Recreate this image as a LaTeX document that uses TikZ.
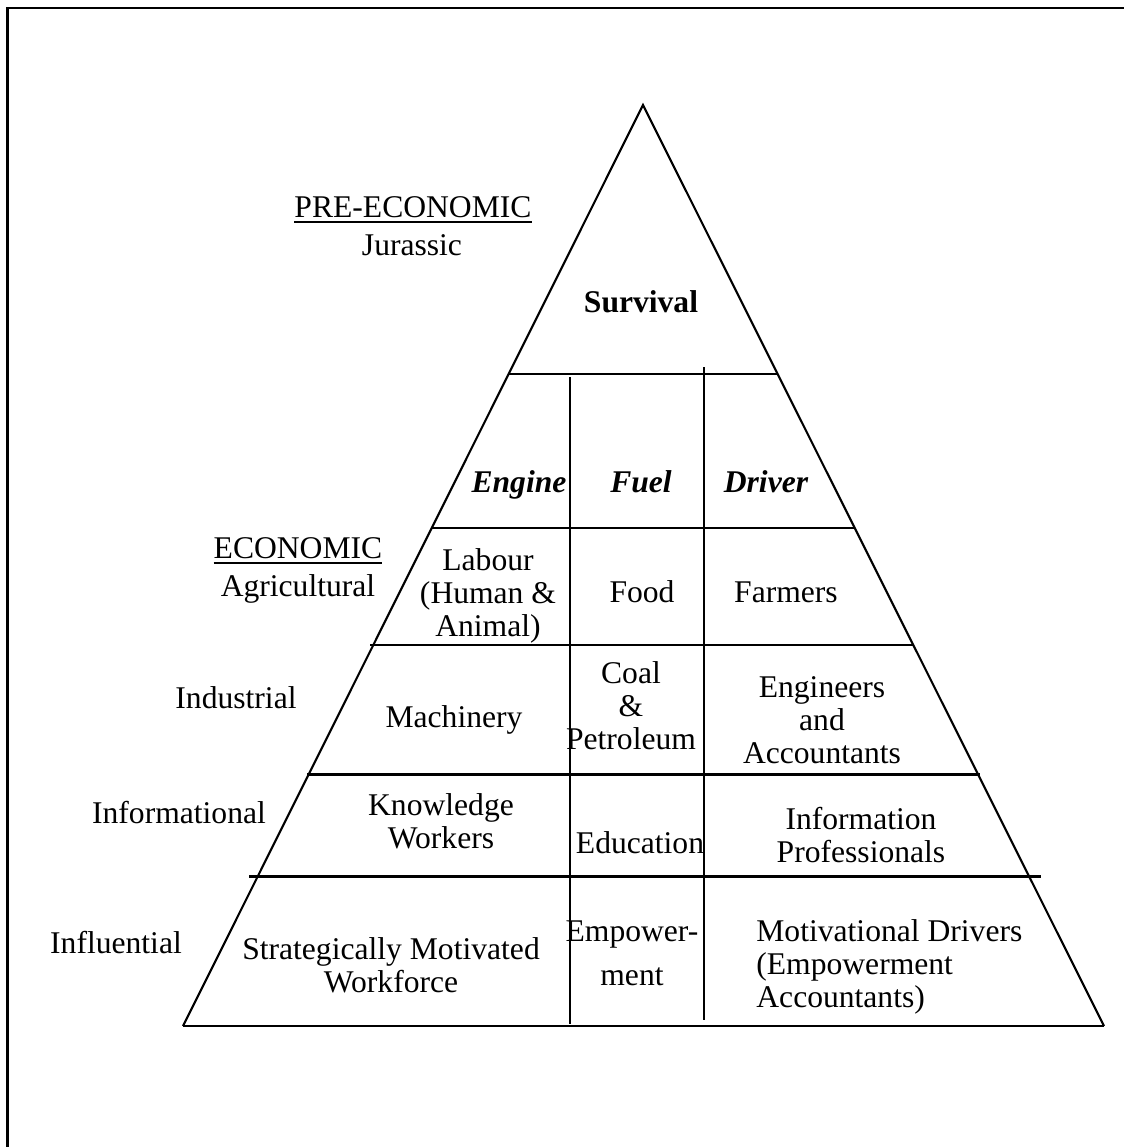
\documentclass[tikz,border=0pt]{standalone}
\usepackage{fontspec}
\setmainfont{Liberation Serif}
\newcommand\myul[1]{\setbox0\hbox{#1}\rlap{\rule[-3pt]{\wd0}{1pt}}\box0}
\newcommand\cellc[1]{\begin{tabular}[t]{@{}c@{}}#1\end{tabular}}
\newcommand\celll[1]{\begin{tabular}[t]{@{}l@{}}#1\end{tabular}}
\begin{document}
\begin{tikzpicture}[x=0.5pt,y=-0.5pt,
  txt/.style={inner sep=0pt, anchor=base, font=\fontsize{15.8pt}{16.5pt}\selectfont},
  txtl/.style={txt, anchor=base west},
  edge/.style={line width=1.05pt},
  baseln/.style={line width=1.4pt},
  frame/.style={line width=1.4pt}]
\useasboundingbox (0,0) rectangle (1124,1147);
\fill[white] (0,0) rectangle (1124,1147);
% frame (only top and left edges fall inside the picture)
\coordinate (F1) at (1124,8);
\coordinate (F2) at (7.5,8);
\coordinate (F3) at (7.5,1147);
\draw[frame, line join=miter] (F1) -- (F2) -- (F3);
% pyramid
\coordinate (A) at (643,105);
\coordinate (BL) at (183,1026);
\coordinate (BR) at (1104,1026);
\draw[edge, line join=miter] (BL) -- (A) -- (BR);
\draw[baseln] (BL) -- (BR);
% horizontal dividers
\coordinate (h1a) at (508.6,374);   \coordinate (h1b) at (777.6,374);
\coordinate (h2a) at (431.7,528);   \coordinate (h2b) at (854.7,528);
\coordinate (h3a) at (370,645);     \coordinate (h3b) at (913.3,645);
\coordinate (h4a) at (307,774.5);   \coordinate (h4b) at (980,774.5);
\coordinate (h5a) at (249,876.5);   \coordinate (h5b) at (1041,876.5);
\draw[edge] (h1a) -- (h1b);
\draw[edge] (h2a) -- (h2b);
\draw[edge] (h3a) -- (h3b);
\draw[edge] (h4a) -- (h4b);
\draw[edge] (h5a) -- (h5b);
% vertical dividers
\coordinate (v1a) at (570,377);  \coordinate (v1b) at (570,1024);
\coordinate (v2a) at (704,367);  \coordinate (v2b) at (704,1020);
\draw[edge] (v1a) -- (v1b);
\draw[edge] (v2a) -- (v2b);
% left labels
\node[txt] (pre) at (413,217) {\myul{PRE-ECONOMIC}};
\node[txt] (jur) at (412,255) {Jurassic};
\node[txt] (eco) at (298,558) {\myul{ECONOMIC}};
\node[txt] (agr) at (298,596) {Agricultural};
\node[txt] (ind) at (236,708) {Industrial};
\node[txt] (inf) at (179,823) {Informational};
\node[txt] (inl) at (116,953) {Influential};
% top
\node[txt] (sur) at (641,312) {\bfseries Survival};
\node[txt] (eng) at (519,492) {\bfseries\itshape Engine};
\node[txt] (fue) at (641,492) {\bfseries\itshape Fuel};
\node[txt] (dri) at (766,492) {\bfseries\itshape Driver};
% agricultural row
\node[txt] (lab) at (488,570) {\cellc{Labour\\(Human \&\\Animal)}};
\node[txt] (foo) at (642,602) {Food};
\node[txt] (far) at (786,602) {Farmers};
% industrial row
\node[txt] (mac) at (454,727) {Machinery};
\node[txt] (coa) at (631,683) {\cellc{Coal\\\&\\Petroleum}};
\node[txt] (enr) at (822,697) {\cellc{Engineers\\and\\Accountants}};
% informational row
\node[txt] (kno) at (441,815) {\cellc{Knowledge\\Workers}};
\node[txt] (edu) at (640,853) {Education};
\node[txt] (ipr) at (861,829) {\cellc{Information\\Professionals}};
% influential row
\node[txt] (smw) at (391,959) {\cellc{Strategically Motivated\\Workforce}};
\node[txt] (emp) at (632,941) {\cellc{Empower-\\[5.5pt]ment}};
\node[txtl] (mot) at (756,941) {\celll{Motivational Drivers\\(Empowerment\\Accountants)}};
\end{tikzpicture}
\end{document}
